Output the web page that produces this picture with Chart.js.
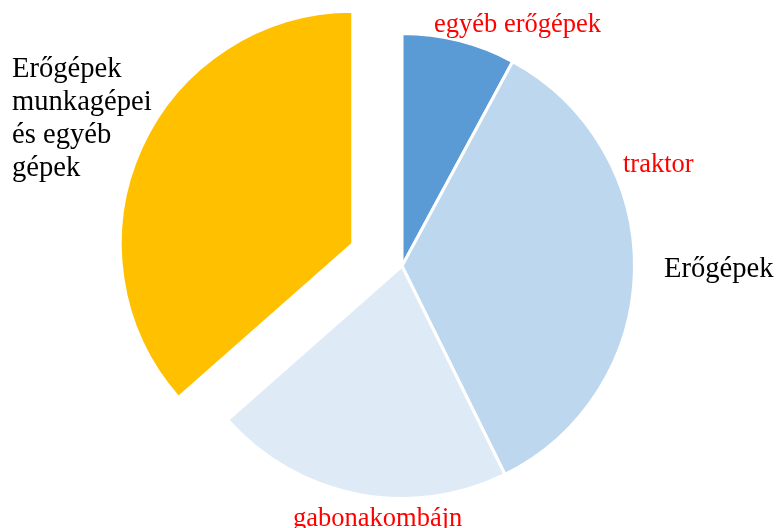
<!DOCTYPE html>
<html lang="hu">
<head>
<meta charset="utf-8">
<script src="https://cdn.jsdelivr.net/npm/chart.js@4"></script>
<style>
  html, body { margin: 0; padding: 0; background: #fff; }
  #wrap { width: 776px; height: 528px; }
</style>
</head>
<body>
<div id="wrap"><canvas id="pie" width="776" height="528"></canvas></div>
<script>
// categories and shares (%), clockwise from 12 o'clock
const categories = ["egyéb erőgépek", "traktor", "gabonakombájn", "Erőgépek munkagépei és egyéb gépek"];
const shares = [7.9, 34.8, 20.8, 36.5];
const sliceColors = ["#5b9bd5", "#bdd7ee", "#deebf7", "#ffc000"];
const groupLabel = "Erőgépek";

// label placement (text only)
const labelSpots = [
    { text: categories[0], x: 434, y: 32, color: "#ff0000", size: 26.5 },
    { text: categories[1], x: 623, y: 172, color: "#ff0000", size: 26.5 },
    { text: categories[2], x: 293, y: 526, color: "#ff0000", size: 26.5 },
    { text: groupLabel, x: 664, y: 277, color: "#000000", size: 28.6 },
    { lines: ["Erőgépek", "munkagépei", "és egyéb", "gépek"], x: 12, y: 77, step: 33, color: "#000000", size: 28.6 }
];

const explodeIndex = 3;
const explodeDist = 54;

const explodePlugin = {
    id: "explode",
    afterUpdate(chart) {
        const arc = chart.getDatasetMeta(0).data[explodeIndex];
        if (!arc) return;
        const mid = (arc.startAngle + arc.endAngle) / 2;
        arc.x += Math.cos(mid) * explodeDist;
        arc.y += Math.sin(mid) * explodeDist;
    }
};

const textPlugin = {
    id: "sliceText",
    afterDraw(chart) {
        const ctx = chart.ctx;
        ctx.save();
        ctx.textAlign = "left";
        ctx.textBaseline = "alphabetic";
        labelSpots.forEach(l => {
            ctx.fillStyle = l.color;
            ctx.font = `${l.size}px "Liberation Serif", "Times New Roman", serif`;
            if (l.lines) {
                l.lines.forEach((t, i) => ctx.fillText(t, l.x, l.y + i * l.step));
            } else {
                ctx.fillText(l.text, l.x, l.y);
            }
        });
        ctx.restore();
    }
};

new Chart(document.getElementById("pie").getContext("2d"), {
    type: "pie",
    data: {
        labels: categories,
        datasets: [{
            data: shares,
            backgroundColor: sliceColors,
            borderColor: "#ffffff",
            borderWidth: 3
        }]
    },
    options: {
        responsive: false,
        maintainAspectRatio: false,
        animation: false,
        radius: 232.5,
        layout: { padding: { left: 28, top: 4, right: 0, bottom: 0 } },
        plugins: {
            legend: { display: false },
            tooltip: { enabled: false }
        }
    },
    plugins: [explodePlugin, textPlugin]
});
</script>
</body>
</html>
